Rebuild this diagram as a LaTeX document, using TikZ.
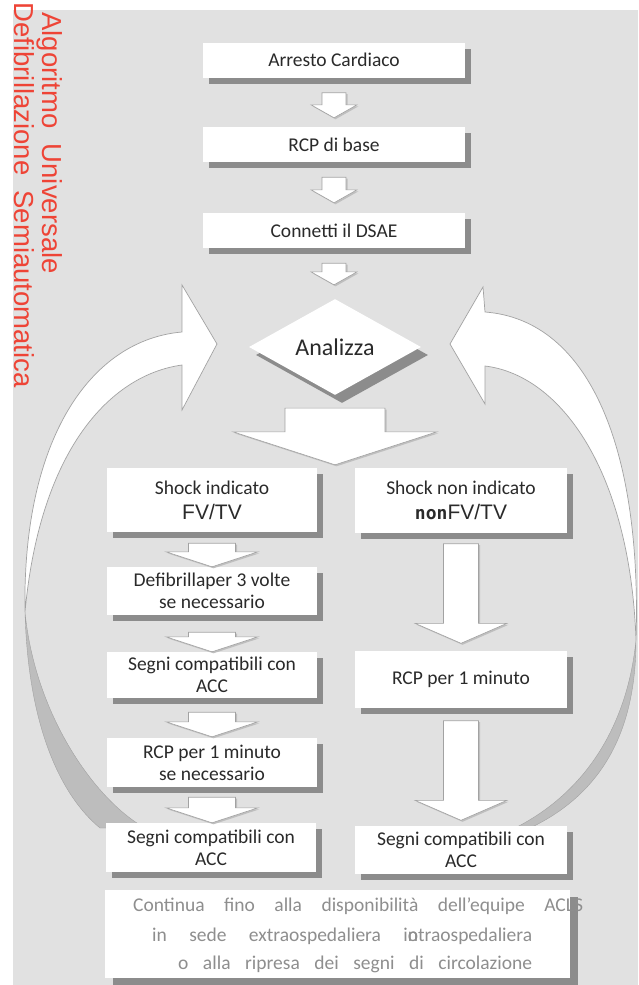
\documentclass[tikz,border=0pt]{standalone}
\usepackage{fontspec}
\setmainfont{Carlito}
\newfontfamily\titlefont{Liberation Sans}
\newfontfamily\fvfont{Liberation Sans}
\newfontfamily\nonfont{DejaVu Sans Mono}
\usetikzlibrary{shapes.geometric,shadows,positioning,calc}
\definecolor{bggray}{HTML}{E1E1E1}
\definecolor{shadowgray}{HTML}{8C8C8C}
\definecolor{edgegray}{HTML}{A2A2A2}
\definecolor{bandgray}{HTML}{BDBDBD}
\definecolor{textdark}{HTML}{2A2A2A}
\definecolor{fingray}{HTML}{8E8E8E}
\definecolor{titlered}{HTML}{EE4436}
\newcommand{\boxsize}{\fontsize{19.5}{22}\selectfont}
\newcommand{\fvtv}{{\fvfont\fontsize{21}{22}\selectfont FV/TV}}
\tikzstyle{plain}=[fill=white,inner sep=1pt,align=center,text=textdark,font=\boxsize]
\tikzstyle{box}=[plain,drop shadow={shadow xshift=6pt,shadow yshift=-6pt,fill=shadowgray,opacity=1}]
\tikzstyle{note}=[plain,drop shadow={shadow xshift=8pt,shadow yshift=-7pt,fill=shadowgray,opacity=1}]
\tikzstyle{tbox}=[box,minimum width=262pt,minimum height=35pt]
\tikzstyle{lbox}=[box,minimum width=210pt]
\tikzstyle{rbox}=[box,minimum width=212pt]
\tikzstyle{decide}=[diamond,fill=white,inner sep=0pt,minimum width=172pt,
  minimum height=88pt,text=textdark,font=\fontsize{24}{26}\selectfont,
  drop shadow={shadow xshift=7pt,shadow yshift=-8pt,fill=shadowgray,opacity=1}]
\tikzstyle{barrow}=[fill=white,draw=edgegray,line width=.6pt,
  drop shadow={shadow xshift=1.5pt,shadow yshift=-1.5pt,fill=black!25,opacity=1}]
\tikzstyle{ribbon}=[fill=white,draw=edgegray,line width=.7pt]
\tikzstyle{underside}=[fill=bandgray,draw=edgegray,line width=.4pt]
\tikzstyle{fintext}=[inner sep=0pt,anchor=base west,text=fingray,font=\boxsize]
\tikzstyle{heading}=[rotate=-90,anchor=base east,inner sep=0pt,text=titlered,
  font=\titlefont\fontsize{27.5}{30}\selectfont]
\newcommand{\blockarrow}[6][]{%
  \path #2 coordinate (bas);
  \path #3 coordinate (bat);
  \coordinate (bae) at (bas |- bat);
  \draw[barrow,#1] ($(bas)+(-#4,0)$) -- ($(bas)+(#4,0)$) -- ($(bae)+(#4,-#6)$)
    -- ($(bae)+(#5,-#6)$) -- (bae) -- ($(bae)+(-#5,-#6)$)
    -- ($(bae)+(-#4,-#6)$) -- cycle;}

\begin{document}
\begin{tikzpicture}[x=1pt, y=-1pt, on grid]
  \useasboundingbox (0,0) rectangle (638,985);
  \clip (0,0) rectangle (638,985);
  \fill[bggray] (12.7,10) rectangle (638,985);

  \coordinate (ltip) at (217,344);
  \coordinate (rtip) at (450,344);
  \path[underside] (25,612) .. controls (28,725) and (60,795) .. (100,828)
    -- (145,828) .. controls (95,800) and (35,715) .. (25,612) -- cycle;
  \path[ribbon] (182,285) -- (ltip) -- (182,410) -- (182,365)
    .. controls (110,375) and (40,450) .. (25,612)
    .. controls (22,440) and (90,340) .. (182,332) -- cycle;
  \path[underside] (636,640) .. controls (636,720) and (610,790) .. (530,828)
    -- (515,828) .. controls (590,790) and (628,720) .. (636,640) -- cycle;
  \path[ribbon] (483,287) -- (rtip) -- (485,404) -- (485,366)
    .. controls (560,375) and (630,470) .. (636,640)
    .. controls (642,450) and (590,320) .. (485,312) -- cycle;

  \node[tbox] (arr) at (334,60) {Arresto Cardiaco};
  \node[tbox, below=84.5pt of arr] (rcp) {RCP di base};
  \node[tbox, below=86pt of rcp] (dsae) {Connetti il DSAE};
  \node[decide, below=116.5pt of dsae, xshift=1pt] (ana) {Analizza};

  \node[lbox, minimum height=64pt, font=\fontsize{19.5}{25}\selectfont]
    (shock) at (212,500) {Shock indicato\\\fvtv};
  \node[lbox, minimum height=48pt, below=91pt of shock] (defib)
    {Defibrillaper 3 volte\\se necessario};
  \node[lbox, minimum height=46pt, below=84pt of defib] (segni1)
    {Segni compatibili con\\ACC};
  \node[lbox, minimum height=49pt, below=87.5pt of segni1] (rcpmin)
    {RCP per 1 minuto\\se necessario};
  \node[lbox, minimum height=49pt, below=85pt of rcpmin, xshift=-1pt] (segni2)
    {Segni compatibili con\\ACC};

  \node[rbox, minimum height=65pt, font=\fontsize{19.5}{25}\selectfont,
    right=249pt of shock] (noshock)
    {Shock non indicato\\{\nonfont\bfseries\fontsize{18}{22}\selectfont non}\fvtv};
  \node[rbox, minimum height=57pt, below=179pt of noshock] (rcp1)
    {RCP per 1 minuto};
  \node[rbox, minimum height=48pt, below=170.5pt of rcp1] (segni3)
    {Segni compatibili con\\ACC};

  \node[note, minimum width=465pt, minimum height=88pt] (cont) at (337.5,934) {};
  \node[fintext] (cont1) at (133,911)
    {\makebox[450pt][s]{Continua fino alla disponibilità dell’equipe ACLS}};
  \node[fintext] (cont2) at (152,941)
    {\makebox[380pt][s]{in sede extraospedaliera i\rlap{n}otraospedaliera}};
  \node[fintext] (cont3) at (178,969)
    {\makebox[354pt][s]{o alla ripresa dei segni di circolazione}};

  \blockarrow{($(arr.south)+(0,15)$)}{($(rcp.north)+(0,-9)$)}{12}{23}{13}
  \blockarrow{($(rcp.south)+(0,15)$)}{($(dsae.north)+(0,-10)$)}{12}{23}{13}
  \blockarrow{($(dsae.south)+(0,15)$)}{($(ana.north)+(0,-14)$)}{12}{23}{13}
  \blockarrow{($(ana.south)+(0,13)$)}{($(ana.south |- shock.north)+(0,-3)$)}{50}{102}{33}
  \blockarrow{($(shock.south)+(0,11)$)}{(defib.north)}{23.5}{46}{15}
  \blockarrow{($(defib.south)+(0,17)$)}{(segni1.north)}{23.5}{46}{15}
  \blockarrow{($(segni1.south)+(0,14)$)}{($(rcpmin.north)+(0,-1)$)}{23.5}{46}{15}
  \blockarrow{($(rcpmin.south)+(0,10)$)}{(segni2.north)}{23.5}{46}{15}
  \blockarrow{($(noshock.south)+(0,11)$)}{($(rcp1.north)+(0,-7)$)}{17.5}{46}{20}
  \blockarrow{($(rcp1.south)+(0,13)$)}{($(segni3.north)+(0,-5)$)}{17.5}{46}{20}

  \node[heading] (alg) at (42,274) {Algoritmo\ \ Universale};
  \node[heading] (dsa) at (14,388) {Defibrillazione\ \ Semiautomatica};
\end{tikzpicture}
\end{document}
